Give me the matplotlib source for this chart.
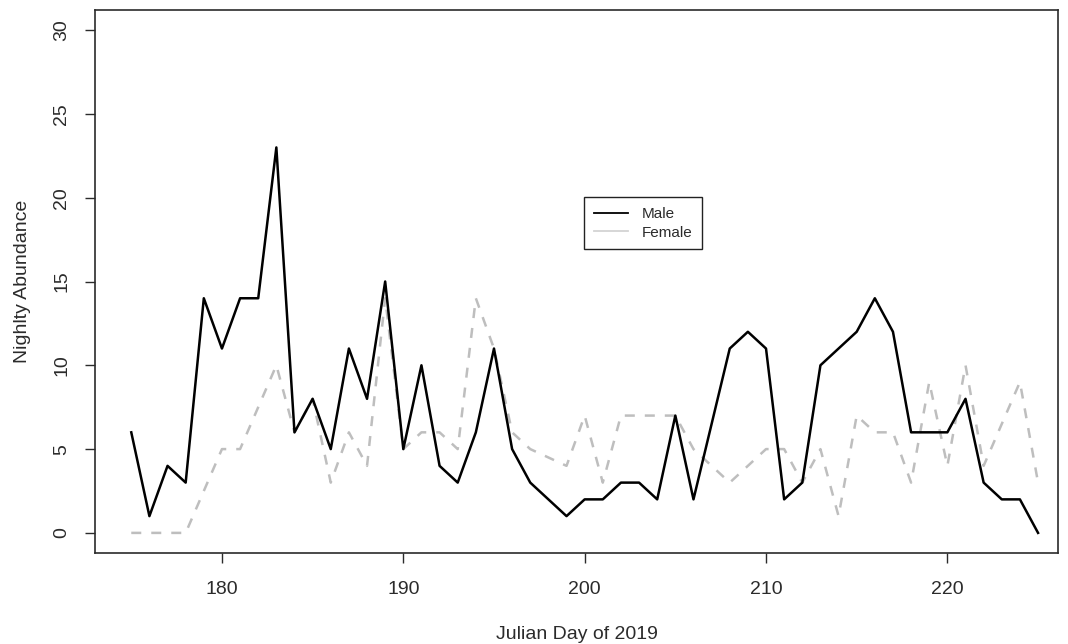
import matplotlib.pyplot as plt
from matplotlib.lines import Line2D
import numpy as np

plt.rcParams['font.family'] = ['Liberation Sans', 'DejaVu Sans']

# 数据：每晚雌雄数量
days = list(range(175, 226))
male = [6, 1, 4, 3, 14, 11, 14, 14, 23, 6,
        8, 5, 11, 8, 15, 5, 10, 4, 3, 6,
        11, 5, 3, 2, 1, 2, 2, 3, 3, 2,
        7, 2, 6.5, 11, 12, 11, 2, 3, 10, 11,
        12, 14, 12, 6, 6, 6, 8, 3, 2, 2,
        0]
female = [0, 0, 0, 0, 2.5, 5, 5, 7.5, 10, 6,
          8, 3, 6, 4, 14, 5, 6, 6, 5, 14,
          11, 6, 5, 4.5, 4, 7, 3, 7, 7, 7,
          7, 5, 4, 3, 4, 5, 5, 3, 5, 1,
          7, 6, 6, 3, 9, 4, 10, 4, 6.5, 9,
          3]
xticks = [180, 190, 200, 210, 220]
yticks = [0, 5, 10, 15, 20, 25, 30]

axis_col = '#2b2b2b'

fig = plt.figure(figsize=(10.68, 6.44), dpi=100)
ax = fig.add_axes([95 / 1068, 1 - 553 / 644, 963 / 1068, 543 / 644])

ax.plot(days, female, color='#bebebe', lw=1.8, linestyle=(0, (4, 4)))
ax.plot(days, male, color='black', lw=1.8)

ax.set_xlim(173, 226.1)
ax.set_ylim(-1.2, 31.2)
ax.set_xticks(xticks)
ax.set_yticks(yticks)
ax.tick_params(axis='both', direction='out', length=7, width=1,
               color=axis_col, labelcolor=axis_col, labelsize=14)
ax.tick_params(axis='x', pad=13)
ax.tick_params(axis='y', pad=11)
for lab in ax.get_yticklabels():
    lab.set_rotation(90)
    lab.set_va('center')
for sp in ax.spines.values():
    sp.set_color(axis_col)
    sp.set_linewidth(1.2)

ax.set_xlabel('Julian Day of 2019', fontsize=14, color=axis_col, labelpad=20)
ax.set_ylabel('Nighlty Abundance', fontsize=14, color=axis_col, labelpad=16)

handles = [Line2D([], [], color='black', lw=1.3),
           Line2D([], [], color='#d3d3d3', lw=1.3)]
leg = ax.legend(handles, ['Male', 'Female'], loc='upper left',
                bbox_to_anchor=((584 - 95) / 963, (553 - 197) / 543),
                borderaxespad=0, fancybox=False, framealpha=1,
                edgecolor='#222222', fontsize=11, handlelength=2.2,
                handletextpad=0.9, borderpad=0.65, labelspacing=0.3)
leg.get_frame().set_linewidth(1.0)
for t in leg.get_texts():
    t.set_color(axis_col)

fig.savefig('out.png', dpi=100)
